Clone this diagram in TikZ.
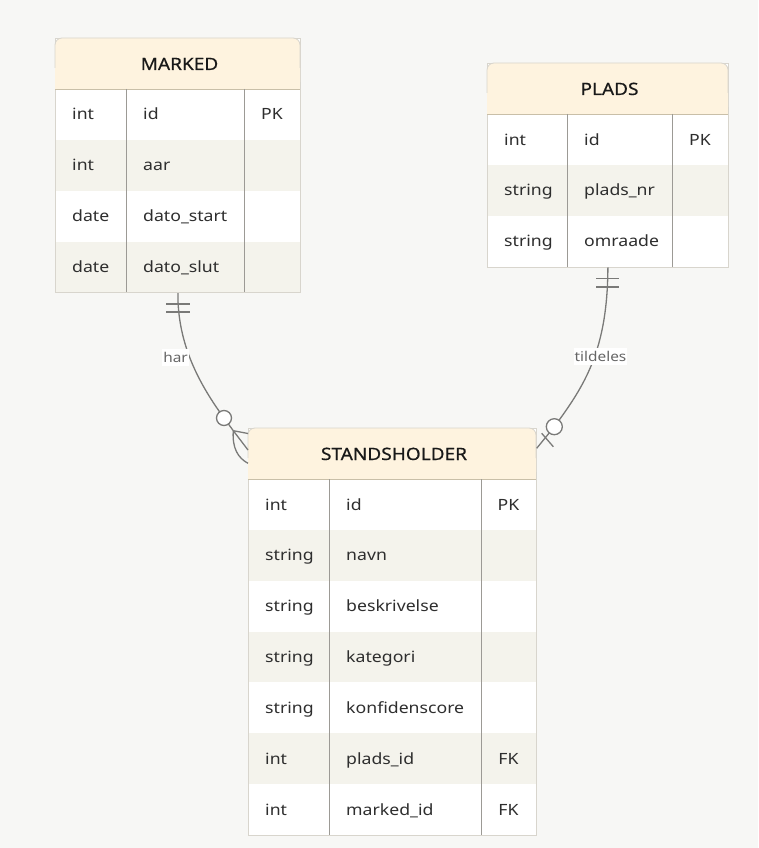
\documentclass[tikz,border=0pt]{standalone}
\usepackage{fontspec}
\setmainfont[FakeStretch=1.14]{Noto Sans}
\newfontfamily\titlefont[FakeStretch=1.12, FakeBold=0.5]{Noto Sans}
\definecolor{bg}{HTML}{F7F7F5}
\definecolor{hdrfill}{HTML}{FEF3DF}
\definecolor{hdrline}{HTML}{C9BFA8}
\definecolor{rowalt}{HTML}{F4F3EC}
\definecolor{outline}{HTML}{D8D5CD}
\definecolor{divline}{HTML}{9C9A95}
\definecolor{relcol}{HTML}{7A7A78}
\definecolor{txt}{HTML}{2E2E2E}
\definecolor{lbl}{HTML}{666666}
\tikzset{
  tbl/.style={draw=outline, line width=0.8pt, fill=white, inner sep=0pt, rectangle},
  cell/.style={font=\fontsize{15.5}{18}\selectfont, text=txt, inner sep=0pt},
  title/.style={font=\titlefont\fontsize{17}{20}\selectfont, text=black!90, inner sep=0pt},
  div/.style={draw=divline, line width=0.8pt},
  rel/.style={draw=relcol, line width=1.3pt},
  relmark/.style={draw=relcol, line width=1.3pt, fill=white},
  rlabel/.style={fill=white, text=lbl, font=\fontsize{13.5}{15}\selectfont, inner xsep=1pt, inner ysep=3pt}
}
% \ertable{id}{title}{x0}{y0}{width}{div1}{div2}{nrows}{rows}
\newcommand\ertable[9]{%
  \node[tbl, minimum width=#5, minimum height={51+#8*50.85}, anchor=north west] (#1) at (#3,#4) {};
  \fill[hdrfill, rounded corners=7] (#3,#4) rectangle ({#3+#5},{#4+51});
  \fill[hdrfill] (#3,{#4+20}) rectangle ({#3+#5},{#4+51});
  \draw[outline, line width=0.8pt, rounded corners=7] (#3,{#4+30}) -- (#3,#4) -- ({#3+#5},#4) -- ({#3+#5},{#4+30});
  \node[title, anchor=base] (#1-title) at ({#3+#5/2+2},{#4+32}) {#2};
  \foreach \ty/\nm/\ky [count=\i] in {#9} {
    \pgfmathsetmacro\ry{#4+51+(\i-1)*50.85}
    \ifodd\i\relax\else
      \fill[rowalt] ({#3+0.5},\ry) rectangle ({#3+#5-0.5},{\ry+50.85});
    \fi
    \node[cell, anchor=base west] (#1-t\i) at ({#3+17},{\ry+31}) {\ty};
    \node[cell, anchor=base west] (#1-n\i) at ({#3+#6+17},{\ry+31}) {\nm};
    \node[cell, anchor=base] (#1-k\i) at ({#3+(#7+#5)/2},{\ry+31}) {\ky};
  }
  \draw[hdrline, line width=0.9pt] (#3,{#4+51}) -- ({#3+#5},{#4+51});
  \draw[div] ({#3+#6},{#4+51}) -- ({#3+#6},{#4+51+#8*50.85});
  \draw[div] ({#3+#7},{#4+51}) -- ({#3+#7},{#4+51+#8*50.85});
}
\begin{document}
\begin{tikzpicture}[x=1pt,y=-1pt]
\fill[bg] (0,0) rectangle (758,848);
\useasboundingbox (0,0) rectangle (758,848);

\ertable{marked}{MARKED}{55}{38}{245}{71}{189}{4}{int/id/PK, int/aar/, date/dato\_start/, date/dato\_slut/}
\ertable{plads}{PLADS}{487}{63}{241}{80}{185}{3}{int/id/PK, string/plads\_nr/, string/omraade/}
\ertable{stand}{STANDSHOLDER}{248}{428}{288}{81}{233}{7}{int/id/PK, string/navn/, string/beskrivelse/, string/kategori/, string/konfidenscore/, int/plads\_id/FK, int/marked\_id/FK}

% relation MARKED -- STANDSHOLDER
\coordinate (c1) at (224,418);
\coordinate (a1) at (233.3,430.7);
\coordinate (f1a) at (248,433.5);
\coordinate (f1b) at (248,450);
\coordinate (f1c) at (248,463.3);
\draw[rel] (marked.south) .. controls (177.5,345) and (200,385) .. (c1) -- (a1);
\draw[rel] (a1) -- (f1a);
\draw[rel] (a1) -- (f1b);
\draw[rel] (a1) .. controls (232,448) and (238,458) .. (f1c);
\coordinate (b1l) at (166,304); \coordinate (b1r) at (190,304);
\coordinate (b2l) at (166,312); \coordinate (b2r) at (190,312);
\draw[rel] (b1l) -- (b1r);
\draw[rel] (b2l) -- (b2r);
\node[relmark, circle, minimum size=15, inner sep=0pt] (o1) at (c1) {};
\node[rlabel] (lhar) at (175.5,357.5) {har};

% relation PLADS -- STANDSHOLDER
\coordinate (c2) at (554.3,426.7);
\coordinate (e2) at (536.7,448.3);
\coordinate (x2a) at (541.7,433.3);
\coordinate (x2b) at (553.3,446.7);
\draw[rel] (plads.south) .. controls (607.5,350) and (585,385) .. (c2) -- (e2);
\draw[rel] (x2a) -- (x2b);
\coordinate (d1l) at (596,278.5); \coordinate (d1r) at (619,278.5);
\coordinate (d2l) at (596,287); \coordinate (d2r) at (619,287);
\draw[rel] (d1l) -- (d1r);
\draw[rel] (d2l) -- (d2r);
\node[relmark, circle, minimum size=16, inner sep=0pt] (o2) at (c2) {};
\node[rlabel] (ltil) at (600.5,356.5) {tildeles};
\end{tikzpicture}
\end{document}
